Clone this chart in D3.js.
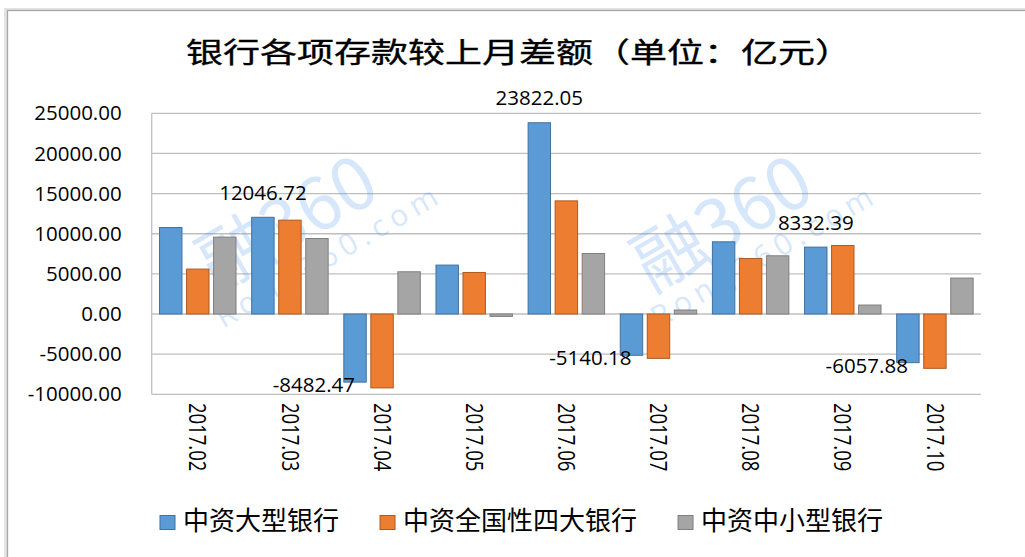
<!DOCTYPE html>
<html>
<head>
<meta charset="utf-8">
<script src="https://cdn.jsdelivr.net/npm/d3@7"></script>
<style>
  body { margin: 0; background: #fff; }
  svg { display: block; }
  .num { font-family: "Open Sans", "Liberation Sans", sans-serif; font-size: 20.5px; fill: #000; }
  .cjk { font-family: "Noto Sans CJK SC", sans-serif; fill: #000; }
</style>
</head>
<body>
<script>
//chart data
var categories = ["2017.02", "2017.03", "2017.04", "2017.05", "2017.06", "2017.07", "2017.08", "2017.09", "2017.10"];
var seriesNames = ["中资大型银行", "中资全国性四大银行", "中资中小型银行"];
var bigBanks   = [10771, 12046.72, -8482.47, 6095, 23822.05, -5140.18, 8993, 8332.39, -6057.88];
var fourBanks  = [5597, 11691, -9204, 5174, 14092, -5522, 6915, 8532, -6766];
var smallBanks = [9577, 9403, 5261, -300, 7537, 497, 7251, 1119, 4478];
var labelled   = [1, 2, 4, 5, 7, 8];   //points of the first series that carry a value label
var yTicks = [-10000, -5000, 0, 5000, 10000, 15000, 20000, 25000];
var titleText = "银行各项存款较上月差额（单位：亿元）";

var fills   = ["#5b9bd5", "#ed7d31", "#a5a5a5"];
var strokes = ["#41719c", "#ae5a21", "#7f7f7f"];

var width = 1025, height = 557;
var margin = {left: 151.7, right: 44, top: 113.3, bottom: 162.7};

//plain hyphen minus, like the spreadsheet
function fmt(v){ return v.toFixed(2); }

var svg = d3.select("body").append("svg")
    .attr("width", width)
    .attr("height", height);

//outer chart frame with a soft shadow
svg.append("rect")
    .attr("x", 5.5).attr("y", 9.5)
    .attr("width", 1200).attr("height", 700)
    .attr("fill", "none")
    .attr("stroke", "#e3e3e3")
    .attr("stroke-width", 3);
svg.append("rect")
    .attr("x", 7.5).attr("y", 10.5)
    .attr("width", 1200).attr("height", 700)
    .attr("fill", "none")
    .attr("stroke", "#a6a6a6")
    .attr("stroke-width", 1.3);

//title, glyphs stretched to the width they have in the picture
svg.append("text")
    .attr("class", "cjk")
    .attr("x", 186)
    .attr("y", 63)
    .attr("font-size", 28)
    .attr("textLength", 666)
    .attr("lengthAdjust", "spacingAndGlyphs")
    .style("stroke", "#000")
    .style("stroke-width", 0.35)
    .text(titleText);

//scales
var x0 = d3.scaleBand()
    .domain(categories)
    .range([margin.left, width - margin.right])
    .padding(0);

var x1 = d3.scaleBand()
    .domain(d3.range(seriesNames.length))
    .range([0, x0.bandwidth()])
    .paddingInner(0.17)
    .paddingOuter(0.29);

var y = d3.scaleLinear()
    .domain([-10000, 25000])
    .range([height - margin.bottom, margin.top]);

//gridlines
svg.append("g")
    .selectAll("line")
    .data(yTicks)
    .enter()
    .append("line")
    .attr("x1", margin.left)
    .attr("x2", width - margin.right)
    .attr("y1", function(d){ return y(d); })
    .attr("y2", function(d){ return y(d); })
    .attr("stroke", "#bfbfbf")
    .attr("stroke-width", 1.3);

//left edge of plot area
svg.append("line")
    .attr("x1", margin.left).attr("x2", margin.left)
    .attr("y1", y(25000)).attr("y2", y(-10000))
    .attr("stroke", "#bfbfbf")
    .attr("stroke-width", 1.3);

//y axis labels
var yAxis = d3.axisLeft(y)
    .tickValues(yTicks)
    .tickFormat(fmt)
    .tickSize(0)
    .tickPadding(30);

var yg = svg.append("g")
    .attr("transform", "translate(" + margin.left + ",0)")
    .call(yAxis);
yg.select(".domain").remove();
yg.selectAll("text")
    .attr("class", "num")
    .attr("font-family", null)
    .attr("font-size", null);

//x axis labels, rotated a quarter turn
svg.append("g")
    .selectAll("text")
    .data(categories)
    .enter()
    .append("text")
    .attr("class", "num")
    .style("font-size", "18.5px")
    .attr("transform", function(d){
        return "translate(" + (x0(d) + x0.bandwidth() / 2) + ",403) rotate(90) scale(1,1.25)";
    })
    .attr("dy", "0.36em")
    .text(function(d){ return d; });

//watermark, drawn faintly across the plot
var marks = [[300, 245], [735, 245]];
var wm = svg.append("g")
    .selectAll("g")
    .data(marks)
    .enter()
    .append("g")
    .attr("transform", function(d){ return "translate(" + d[0] + "," + d[1] + ") rotate(-30)"; })
    .attr("opacity", 0.22);
wm.append("text")
    .attr("class", "cjk")
    .attr("text-anchor", "middle")
    .attr("font-size", 72)
    .style("fill", "#4a94ee")
    .text("融360");
wm.append("text")
    .attr("text-anchor", "middle")
    .attr("font-family", "Open Sans, sans-serif")
    .attr("font-size", 30)
    .attr("letter-spacing", 6)
    .attr("y", 34)
    .attr("x", 20)
    .style("fill", "#4a94ee")
    .text("Rong360.com");

//bars
var series = [bigBanks, fourBanks, smallBanks];
var groups = svg.append("g")
    .selectAll("g")
    .data(series)
    .enter()
    .append("g");

groups.selectAll("rect")
    .data(function(d, s){
        return d.map(function(v, i){ return {s: s, i: i, v: v}; });
    })
    .enter()
    .append("rect")
    .attr("x", function(d){ return x0(categories[d.i]) + x1(d.s); })
    .attr("width", x1.bandwidth())
    .attr("y", function(d){ return y(Math.max(0, d.v)); })
    .attr("height", function(d){ return Math.abs(y(d.v) - y(0)); })
    .attr("fill", function(d){ return fills[d.s]; })
    .attr("stroke", function(d){ return strokes[d.s]; })
    .attr("stroke-width", 1);

//value labels on the first series
svg.append("g")
    .selectAll("text")
    .data(labelled)
    .enter()
    .append("text")
    .attr("class", "num")
    .attr("text-anchor", function(i){ return bigBanks[i] >= 0 ? "middle" : "end"; })
    .attr("x", function(i){
        return x0(categories[i]) + x1(0) + x1.bandwidth() / 2;
    })
    .attr("y", function(i){
        var v = bigBanks[i];
        return v >= 0 ? y(v) - 17.5 : y(v) + 10;
    })
    .text(function(i){ return fmt(bigBanks[i]); });

//legend
var legend = svg.append("g")
    .attr("transform", "translate(160,515.5)");
var lx = 0;
seriesNames.forEach(function(name, s){
    var item = legend.append("g").attr("transform", "translate(" + lx + ",0)");
    item.append("rect")
        .attr("width", 15)
        .attr("height", 14)
        .attr("fill", fills[s])
        .attr("stroke", strokes[s])
        .attr("stroke-width", 1);
    var t = item.append("text")
        .attr("class", "cjk")
        .attr("x", 23)
        .attr("y", 14.5)
        .attr("font-size", 26)
        .text(name);
    lx += 23 + t.node().getComputedTextLength() + 41;
});
</script>
</body>
</html>
